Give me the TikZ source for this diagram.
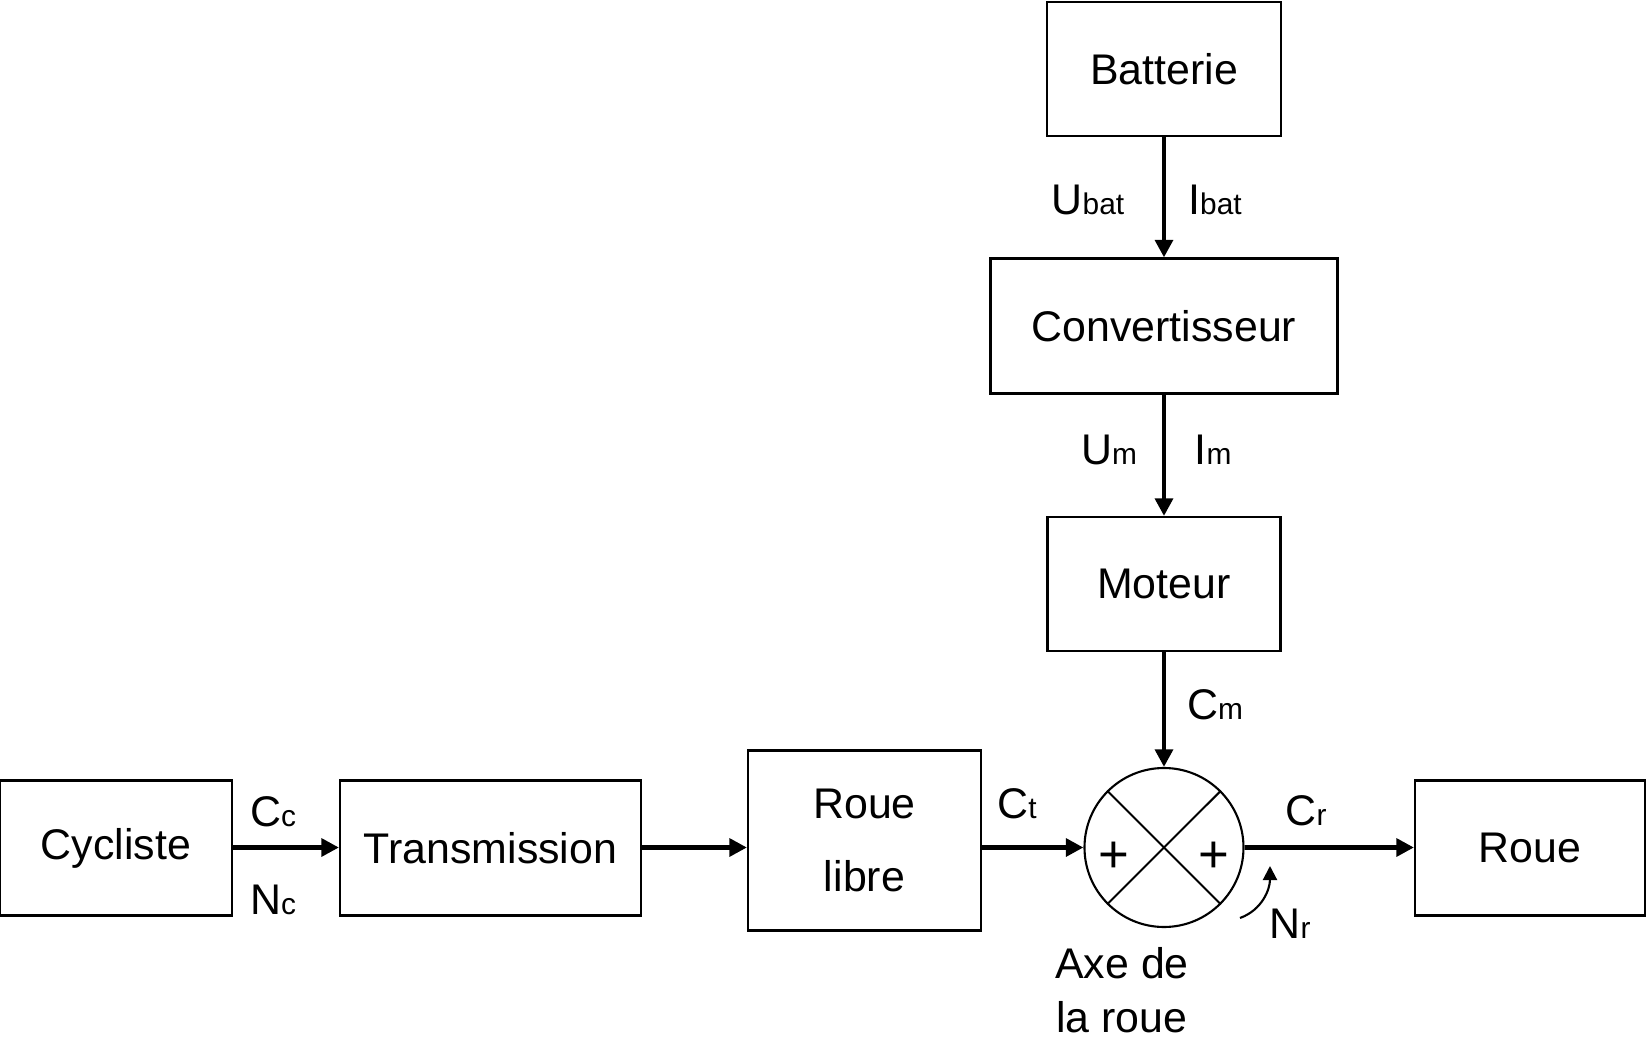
\documentclass[tikz,border=0pt]{standalone}
\usepackage{fontspec}
\setmainfont{Liberation Sans}
\usetikzlibrary{arrows.meta,calc}

\newcommand{\idx}[1]{{\fontsize{8.5}{10}\selectfont #1}}

\tikzset{
	bloc/.style={draw, line width=0.6pt, inner sep=0pt, align=center,
		font=\fontsize{12.2}{21}\selectfont},
	fleche/.style={line width=1.4pt, -{Triangle[length=5pt,width=5pt]}},
	etiq/.style={inner sep=0pt, font=\fontsize{12.2}{15}\selectfont},
}

\begin{document}
\begin{tikzpicture}[scale=1.0]

	\useasboundingbox (0,0) rectangle (16.47,10.38);

	\node[bloc, minimum width=2.34cm, minimum height=1.34cm] (bat)   at (11.64,9.69)  {Batterie};
	\node[bloc, minimum width=3.47cm, minimum height=1.35cm] (conv)  at (11.64,7.12)  {Convertisseur};
	\node[bloc, minimum width=2.33cm, minimum height=1.34cm] (mot)   at (11.64,4.54)  {Moteur};
	\node[bloc, minimum width=2.32cm, minimum height=1.35cm] (cyc)   at (1.16,1.90)   {Cycliste};
	\node[bloc, minimum width=3.01cm, minimum height=1.35cm] (trans) at (4.905,1.90)  {Transmission};
	\node[bloc, minimum width=2.33cm, minimum height=1.80cm] (rl)    at (8.645,1.975) {Roue\\libre};
	\node[bloc, minimum width=2.30cm, minimum height=1.35cm] (roue)  at (15.30,1.90)  {Roue};

	\node[draw, circle, line width=0.6pt, minimum size=1.59cm, inner sep=0pt] (som) at (11.64,1.905) {};
	\draw[line width=0.6pt] (som.45) -- (som.225);
	\draw[line width=0.6pt] (som.135) -- (som.315);
	\node[etiq, font=\fontsize{15}{15}\selectfont] at ($(som.center)+(-0.50,-0.10)$) {+};
	\node[etiq, font=\fontsize{15}{15}\selectfont] at ($(som.center)+(0.50,-0.10)$) {+};

	\draw[fleche] (bat) -- (conv);
	\draw[fleche] (conv) -- (mot);
	\draw[fleche] (mot) -- (som);
	\draw[fleche] (cyc.east |- som.west) -- (trans.west |- som.west);
	\draw[fleche] (trans.east |- som.west) -- (rl.west |- som.west);
	\draw[fleche] (rl.east |- som.west) -- (som.west);
	\draw[fleche] (som.east) -- (roue.west |- som.east);

	\coordinate (N1) at (12.40,1.20);
	\coordinate (N2) at (12.70,1.72);
	\draw[line width=0.6pt, -{Triangle[length=4pt,width=4pt]}] (N1) to[out=20, in=-90] (N2);

	\node[etiq] at (10.88,8.38) {U\idx{bat}};
	\node[etiq] at (12.15,8.38) {I\idx{bat}};
	\node[etiq] at (11.09,5.88) {U\idx{m}};
	\node[etiq] at (12.13,5.88) {I\idx{m}};
	\node[etiq] at (12.15,3.33) {C\idx{m}};
	\node[etiq] at (2.73,2.26)  {C\idx{c}};
	\node[etiq] at (2.73,1.38)  {N\idx{c}};
	\node[etiq] at (10.17,2.34) {C\idx{t}};
	\node[etiq] at (13.06,2.27) {C\idx{r}};
	\node[etiq] at (12.90,1.14) {N\idx{r}};
	\node[etiq] at (11.22,0.75) {Axe de};
	\node[etiq] at (11.22,0.21) {la roue};

\end{tikzpicture}
\end{document}
